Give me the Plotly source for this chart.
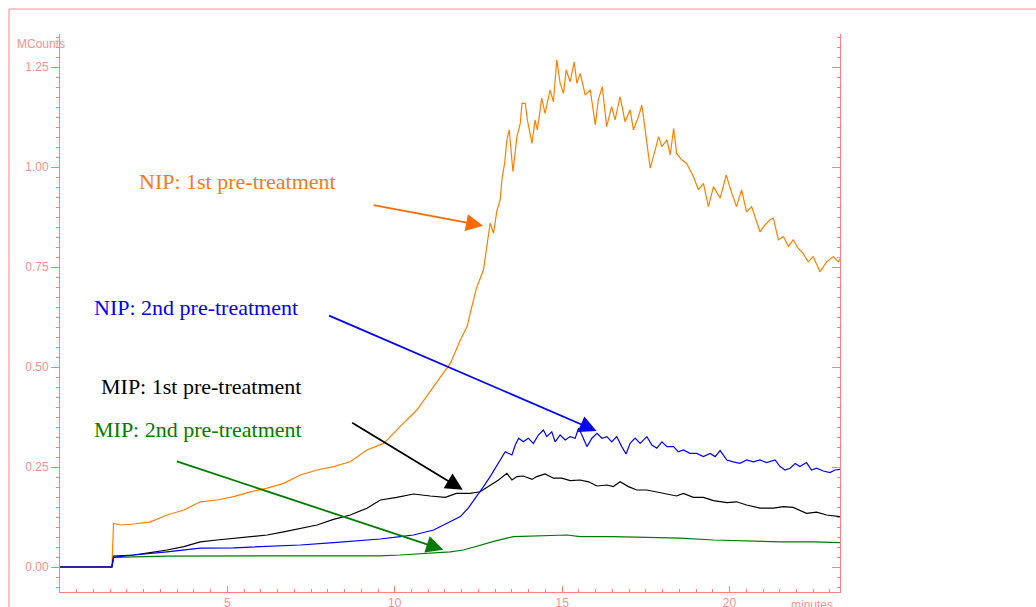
import plotly.graph_objects as go

# Chromatogram traces (time in minutes, signal in MCounts)
nip1_t = [0, 1.55, 1.6, 1.81, 2.2, 2.7, 3.2, 3.7, 4.19, 4.69, 5.19, 5.69, 6.19, 6.68, 7.18, 7.68,
          8.17, 8.67, 9.17, 9.67, 10.16, 10.66, 11.16, 11.66, 11.96, 12.16, 12.27, 12.44, 12.65,
          12.75, 12.85, 12.95, 13.05, 13.15, 13.2, 13.28, 13.35, 13.42, 13.53, 13.65, 13.75, 13.8,
          13.9, 13.96, 14.1, 14.19, 14.26, 14.39, 14.49, 14.64, 14.74, 14.84, 14.94, 15.04, 15.12,
          15.24, 15.36, 15.44, 15.54, 15.69, 15.84, 15.99, 16.08, 16.2, 16.33, 16.48, 16.58, 16.73,
          16.88, 17.03, 17.13, 17.28, 17.38, 17.48, 17.63, 17.78, 17.88, 17.98, 18.13, 18.23, 18.33,
          18.42, 18.57, 18.72, 18.92, 19.07, 19.22, 19.37, 19.52, 19.72, 19.9, 20.07, 20.21, 20.36,
          20.51, 20.66, 20.81, 20.91, 21.06, 21.21, 21.31, 21.46, 21.61, 21.76, 21.9, 22.05, 22.2,
          22.35, 22.5, 22.7, 22.9, 23.1, 23.25, 23.3]
nip1_v = [0, 0, 0.109, 0.105, 0.1075, 0.113, 0.13, 0.1425, 0.163, 0.1675, 0.176, 0.188, 0.197, 0.209,
          0.23, 0.2425, 0.251, 0.263, 0.2925, 0.309, 0.351, 0.3925, 0.451, 0.509, 0.5675, 0.601,
          0.64, 0.697, 0.743, 0.80, 0.86, 0.834, 0.89, 0.918, 0.968, 1.009, 1.068, 1.093, 0.988,
          1.076, 1.109, 1.159, 1.159, 1.118, 1.059, 1.118, 1.093, 1.172, 1.134, 1.193, 1.163, 1.268,
          1.209, 1.184, 1.243, 1.213, 1.263, 1.209, 1.234, 1.18, 1.193, 1.105, 1.168, 1.201, 1.101,
          1.151, 1.118, 1.176, 1.113, 1.143, 1.093, 1.126, 1.155, 1.093, 0.997, 1.043, 1.076, 1.051,
          1.068, 1.03, 1.097, 1.034, 1.018, 1.009, 0.976, 0.943, 0.959, 0.901, 0.951, 0.922, 0.98,
          0.934, 0.901, 0.943, 0.888, 0.901, 0.863, 0.838, 0.855, 0.868, 0.872, 0.818, 0.826, 0.801,
          0.818, 0.797, 0.784, 0.763, 0.776, 0.738, 0.763, 0.776, 0.763, 0.77]

nip2_t = [0, 1.55, 1.6, 2.2, 3.2, 4.19, 5.19, 6.19, 7.18, 8.17, 9.17, 9.57, 10.16, 10.56, 11.16,
          11.56, 11.96, 12.2, 12.45, 12.65, 12.85, 13.0, 13.15, 13.3, 13.5, 13.6, 13.7, 13.84, 13.99,
          14.14, 14.29, 14.44, 14.54, 14.69, 14.79, 14.94, 15.09, 15.24, 15.39, 15.49, 15.59, 15.74,
          15.89, 16.04, 16.19, 16.34, 16.48, 16.63, 16.78, 16.91, 17.03, 17.18, 17.33, 17.53, 17.68,
          17.83, 17.98, 18.13, 18.33, 18.47, 18.62, 18.82, 19.02, 19.22, 19.42, 19.57, 19.72, 19.92,
          20.11, 20.31, 20.51, 20.71, 20.91, 21.11, 21.36, 21.51, 21.66, 21.81, 21.96, 22.1, 22.3,
          22.45, 22.6, 22.8, 23.0, 23.15, 23.3]
nip2_v = [0, 0, 0.024, 0.03, 0.038, 0.047, 0.048, 0.051, 0.055, 0.061, 0.0675, 0.07, 0.076, 0.08,
          0.0925, 0.11, 0.126, 0.148, 0.176, 0.201, 0.226, 0.247, 0.2675, 0.288, 0.28, 0.305, 0.322,
          0.313, 0.322, 0.309, 0.33, 0.3425, 0.326, 0.338, 0.313, 0.33, 0.3175, 0.326, 0.322, 0.347,
          0.33, 0.301, 0.322, 0.334, 0.322, 0.326, 0.313, 0.326, 0.301, 0.2825, 0.309, 0.322, 0.309,
          0.326, 0.305, 0.297, 0.313, 0.301, 0.301, 0.288, 0.2925, 0.284, 0.284, 0.276, 0.284, 0.276,
          0.291, 0.2675, 0.263, 0.259, 0.2675, 0.263, 0.2675, 0.261, 0.2675, 0.251, 0.2425, 0.247,
          0.259, 0.251, 0.261, 0.2425, 0.247, 0.24, 0.236, 0.2425, 0.244]

mip1_t = [0, 1.55, 1.6, 2.2, 2.7, 3.2, 3.7, 4.19, 4.69, 5.19, 5.69, 6.19, 6.68, 7.18, 7.68, 8.17,
          8.67, 9.17, 9.57, 10.06, 10.56, 11.06, 11.51, 11.84, 12.25, 12.55, 12.85, 13.1, 13.35,
          13.5, 13.65, 13.84, 14.1, 14.24, 14.49, 14.74, 14.99, 15.24, 15.54, 15.79, 16.04, 16.34,
          16.53, 16.73, 16.98, 17.23, 17.53, 17.83, 18.13, 18.42, 18.62, 18.92, 19.22, 19.52, 19.92,
          20.21, 20.51, 20.91, 21.31, 21.61, 21.9, 22.1, 22.3, 22.6, 22.9, 23.3]
mip1_v = [0, 0, 0.0275, 0.03, 0.036, 0.0425, 0.051, 0.063, 0.0675, 0.072, 0.076, 0.08, 0.088,
          0.097, 0.105, 0.119, 0.13, 0.147, 0.1675, 0.174, 0.1825, 0.1775, 0.174, 0.184, 0.184,
          0.188, 0.205, 0.2175, 0.234, 0.2175, 0.226, 0.2275, 0.219, 0.226, 0.2325, 0.222, 0.222,
          0.216, 0.2175, 0.213, 0.2025, 0.205, 0.201, 0.213, 0.201, 0.1925, 0.1925, 0.188, 0.1825,
          0.1775, 0.184, 0.174, 0.174, 0.166, 0.161, 0.163, 0.155, 0.147, 0.147, 0.151, 0.149,
          0.1425, 0.134, 0.137, 0.13, 0.126]

mip2_t = [0, 1.55, 1.6, 3.2, 7.18, 9.57, 10.16, 11.06, 11.66, 12.05, 12.55, 13.04, 13.55, 14.05,
          14.54, 15.14, 15.54, 16.53, 17.53, 18.52, 19.52, 20.51, 21.51, 22.5, 23.3]
mip2_v = [0, 0, 0.024, 0.027, 0.028, 0.028, 0.03, 0.034, 0.038, 0.0425, 0.055, 0.066, 0.076,
          0.0775, 0.0775, 0.08, 0.076, 0.076, 0.074, 0.072, 0.0675, 0.065, 0.063, 0.063, 0.061]

# Labelled x ticks
x_tick_vals = [5, 10, 15, 20]

# Callouts: label, colour, label anchor (min, MCounts), arrow tip (min, MCounts), tail offset (px)
labels = ["NIP: 1st pre-treatment", "NIP: 2nd pre-treatment",
          "MIP: 1st pre-treatment", "MIP: 2nd pre-treatment"]
label_colors = ["#f57a1c", "#0000ee", "#000000", "#007a00"]
arrow_colors = ["#ff6a00", "#0000ff", "#000000", "#007a00"]
label_pos = [(2.31, 0.965), (0.97, 0.65), (1.15, 0.4525), (0.97, 0.345)]
arrow_tip = [(12.64, 0.853), (16.03, 0.34), (12.03, 0.193), (11.45, 0.043)]
arrow_tail = [(-111, -21), (-269, -116), (-112, -68), (-268, -89)]

AXIS = "#ff8080"
TEXT = "#ff8f8f"

fig = go.Figure()
fig.add_trace(go.Scatter(x=mip2_t, y=mip2_v, mode="lines", line=dict(color="#007a00", width=1.2)))
fig.add_trace(go.Scatter(x=nip1_t, y=nip1_v, mode="lines", line=dict(color="#ff8000", width=1.2)))
fig.add_trace(go.Scatter(x=mip1_t, y=mip1_v, mode="lines", line=dict(color="#000000", width=1.2)))
fig.add_trace(go.Scatter(x=nip2_t, y=nip2_v, mode="lines", line=dict(color="#0000ff", width=1.2)))
# empty trace so the right-hand axis is drawn
fig.add_trace(go.Scatter(x=[None], y=[None], yaxis="y2", mode="lines"))

annotations = []
for text, col, (lx, ly) in zip(labels, label_colors, label_pos):
    annotations.append(dict(x=lx, y=ly, xref="x", yref="y", text=text, showarrow=False,
                            xanchor="left", yanchor="middle",
                            font=dict(family="Liberation Serif, Times New Roman, serif", size=22, color=col)))
for col, (tx, ty), (ax, ay) in zip(arrow_colors, arrow_tip, arrow_tail):
    annotations.append(dict(x=tx, y=ty, xref="x", yref="y", text="", showarrow=True,
                            ax=ax, ay=ay, axref="pixel", ayref="pixel",
                            arrowhead=2, arrowsize=1.9, arrowwidth=1.8, arrowcolor=col, standoff=0))
annotations.append(dict(x=-0.0577, y=0.982, xref="paper", yref="paper", yanchor="middle", xanchor="left",
                        text="MCounts", showarrow=False, font=dict(size=12, color=TEXT)))
annotations.append(dict(x=0.935, y=-0.008, xref="paper", yref="paper", yanchor="top", xanchor="left",
                        text="minutes", showarrow=False, font=dict(size=12, color=TEXT)))

fig.update_layout(
    width=1036, height=607, autosize=False,
    margin=dict(l=60, r=196, t=34, b=15, autoexpand=False),
    paper_bgcolor="white", plot_bgcolor="white",
    showlegend=False,
    font=dict(family="Liberation Sans, Arial, sans-serif", size=12, color=TEXT),
    xaxis=dict(range=[0, 23.3], showgrid=False, zeroline=False, showline=True, linecolor=AXIS,
               linewidth=1, ticks="inside", ticklen=6, tickcolor=AXIS,
               tickmode="array", tickvals=x_tick_vals,
               automargin=False, tickfont=dict(size=12, color=TEXT),
               minor=dict(ticks="inside", ticklen=3, dtick=0.5, tick0=0, tickcolor=AXIS, showgrid=False)),
    yaxis=dict(range=[-0.0625, 1.3325], showgrid=False, zeroline=False, showline=True, linecolor=AXIS,
               linewidth=1, ticks="outside", ticklen=8, tickcolor=AXIS, dtick=0.25, tick0=0,
               automargin=False, tickformat=".2f", tickfont=dict(size=12, color=TEXT),
               minor=dict(ticks="outside", ticklen=3, dtick=0.025, tickcolor=AXIS, showgrid=False)),
    yaxis2=dict(range=[-0.0625, 1.3325], overlaying="y", side="right", anchor="x", showgrid=False,
                zeroline=False, showline=True, linecolor=AXIS, linewidth=1, ticks="inside", ticklen=8,
                tickcolor=AXIS, dtick=0.25, tick0=0, showticklabels=False, automargin=False,
                minor=dict(ticks="inside", ticklen=3, dtick=0.025, tickcolor=AXIS, showgrid=False)),
    annotations=annotations,
    shapes=[
        # outer frame (top and left edges)
        dict(type="line", xref="paper", yref="paper", x0=-0.0654, x1=1.26, y0=1.0448, y1=1.0448,
             line=dict(color="#ffb0b0", width=1.5)),
        dict(type="line", xref="paper", yref="paper", x0=-0.0654, x1=-0.0654, y0=1.0448, y1=-0.04,
             line=dict(color="#ffb0b0", width=1.5)),
    ],
)

fig.write_html("out.html", config={"displayModeBar": False})
